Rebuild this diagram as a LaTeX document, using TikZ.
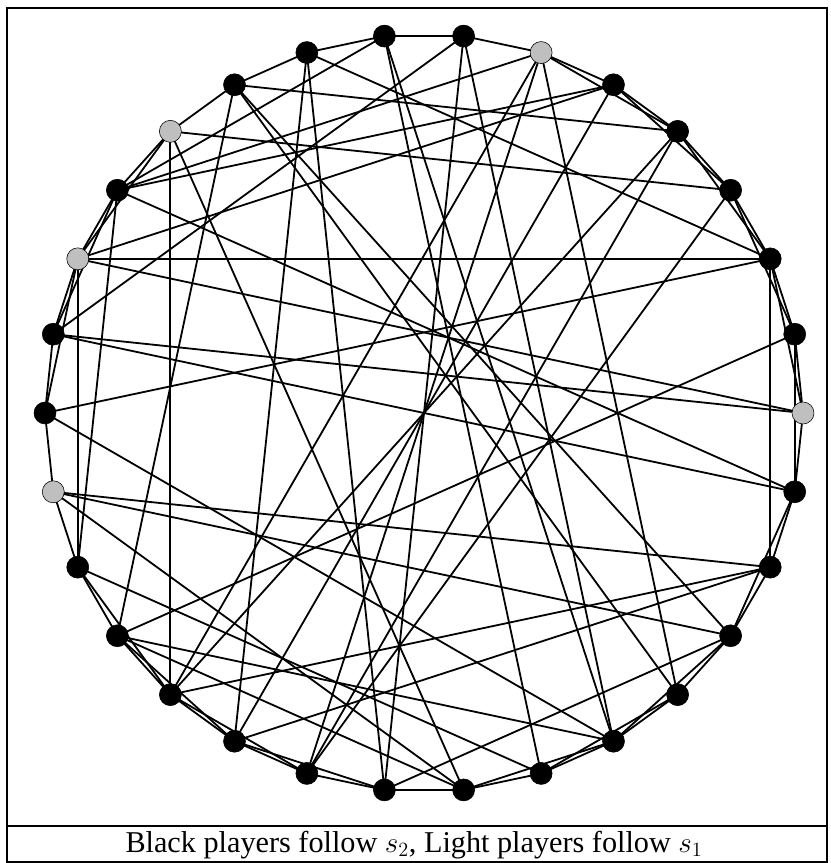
\documentclass[tikz,border=0pt]{standalone}
\usepackage{fontspec}
\setmainfont{Liberation Serif}
\usetikzlibrary{calc}

\tikzset{
  player/.style={circle, draw=black, fill=black, inner sep=0pt, minimum size=5.5mm},
  lightplayer/.style={player, fill=black!25},
  tie/.style={line width=0.45mm}
}

\begin{document}
\begin{tikzpicture}[x=0.25mm, y=0.25mm]
\useasboundingbox (-424,413) rectangle (406,-450);
% frame and caption
\draw[line width=0.5mm] (-417,405) rectangle (403,-449);
\draw[line width=0.5mm] (-417,-413) -- (403,-413);
\node (caption) at (-10,-432) {\fontsize{21.5}{25}\selectfont Black players follow $s_2$, Light players follow $s_1$};

% players on the circle
\foreach \i in {0,...,29} {
  \coordinate (p\i) at (12*\i:379);
}

% ring ties
\foreach \a/\b in {0/1, 1/2, 2/3, 3/4, 4/5, 5/6, 6/7, 7/8, 8/9, 9/10,
  10/11, 11/12, 12/13, 13/14, 14/15, 15/16, 16/17, 17/18, 18/19, 19/20,
  20/21, 21/22, 22/23, 23/24, 24/25, 25/26, 26/27, 27/28, 28/29, 29/0,
  1/3, 2/4, 3/5, 4/6, 11/13, 12/14, 13/15, 17/19, 18/20, 19/21,
  20/22, 23/25, 24/26, 25/27, 27/29, 29/1, 0/2} {
  \draw[tie] (p\a) -- (p\b);
}
% long ties
\foreach \a/\b in {13/2, 13/17, 11/19, 2/28, 13/0, 15/2, 14/29, 6/19, 9/22, 9/20,
  8/25, 9/2, 10/27, 18/1, 17/24, 18/23, 18/25, 19/4, 19/28, 20/28,
  18/10, 17/12, 12/6, 12/5, 10/4, 11/3, 11/23, 8/12, 7/25, 14/7,
  15/25, 16/27, 7/22, 6/21, 6/26, 3/21, 5/20, 16/23, 22/27, 24/8,
  12/29, 14/0, 16/28, 26/10, 21/4, 13/5} {
  \draw[tie] (p\a) -- (p\b);
}

\foreach \i in {1,2,3,4,5,7,8,9,10,12,14,15,17,18,19,20,21,22,23,24,25,26,27,28,29} {
  \node[player] (n\i) at (p\i) {};
}
\foreach \i in {0,6,11,13,16} {
  \node[lightplayer] (n\i) at (p\i) {};
}
\end{tikzpicture}
\end{document}
